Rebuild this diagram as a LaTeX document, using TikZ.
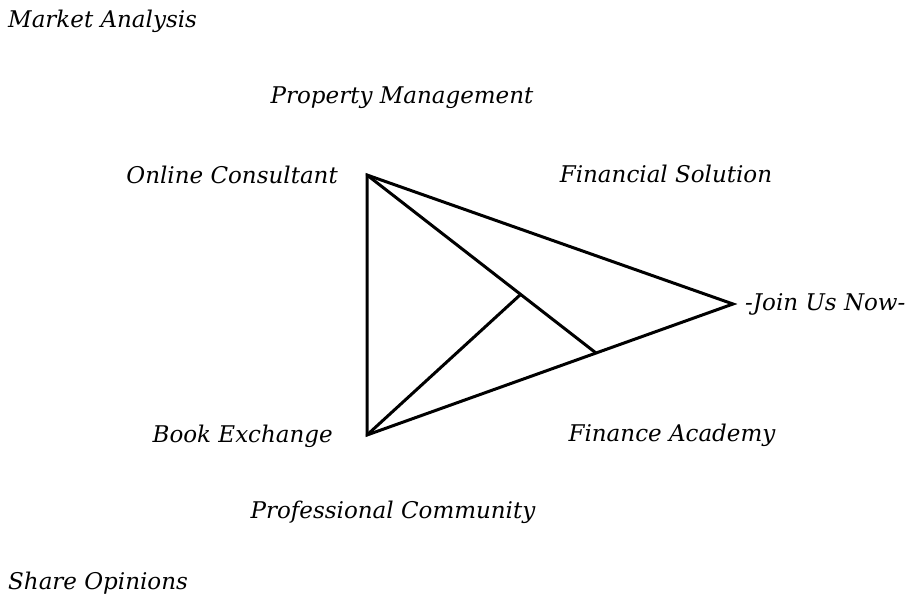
\documentclass[tikz,border=0pt]{standalone}
\usepackage{fontspec}
\setmainfont{DejaVu Serif}
\begin{document}
\begin{tikzpicture}[x=1pt,y=-1pt,
  lbl/.style={font=\itshape\fontsize{23}{26}\selectfont, inner sep=0pt},
  edge/.style={line width=3pt, line join=miter, line cap=round}]
\useasboundingbox (0,0) rectangle (921,615);
\coordinate (T) at (367,175);
\coordinate (B) at (367,435);
\coordinate (R) at (733,304);
\coordinate (M) at (596,353);
\coordinate (J) at (520,295);
\draw[edge] (T) -- (R) -- (B) -- cycle;
\draw[edge] (T) -- (M);
\draw[edge] (B) -- (J);
\node[lbl, anchor=west] (ma) at (8,21) {Market Analysis};
\node[lbl] (pm) at (402,98) {Property Management};
\node[lbl, anchor=east] (oc) at (338,175) {Online Consultant};
\node[lbl] (fs) at (666,174) {Financial Solution};
\node[lbl, anchor=west] (jn) at (745,304) {-Join Us Now-};
\node[lbl, anchor=east] (be) at (333,436) {Book Exchange};
\node[lbl] (fa) at (672,435) {Finance Academy};
\node[lbl] (pc) at (393,512) {Professional Community};
\node[lbl, anchor=west] (so) at (8,583) {Share Opinions};
\end{tikzpicture}
\end{document}
